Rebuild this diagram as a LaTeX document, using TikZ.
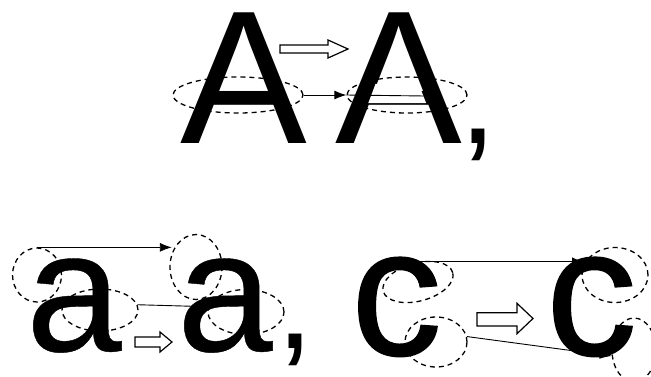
\documentclass[tikz,border=0pt]{standalone}
\usepackage{fontspec}
\setmainfont{Liberation Sans}
\newfontfamily\heavysans[FakeBold=0.7]{Liberation Sans}
\newfontfamily\semisans[FakeBold=0.25]{Liberation Sans}
\usetikzlibrary{shapes.geometric,arrows.meta}
\begin{document}
\begin{tikzpicture}[x=1pt,y=-1pt,
  bigglyph/.style={inner sep=0pt, outer sep=0pt, anchor=base west, font=\fontsize{190}{190}\selectfont},
  aglyph/.style={inner sep=0pt, outer sep=0pt, anchor=base west, font=\semisans\fontsize{172}{172}\selectfont},
  cglyph/.style={inner sep=0pt, outer sep=0pt, anchor=base west, font=\heavysans\fontsize{182}{182}\selectfont},
  commaglyph/.style={inner sep=0pt, outer sep=0pt, anchor=base west, font=\fontsize{135}{135}\selectfont},
  zone/.style={ellipse, draw, inner sep=0pt, line width=1.3pt, dash pattern=on 5pt off 4pt},
  link/.style={line width=0.9pt, -{Latex[length=12pt,width=9pt]}},
  plainlink/.style={line width=0.9pt},
  hollow/.style={draw, line width=1.2pt, line join=miter},
  patch/.style={fill=white, draw=none}]
\useasboundingbox (0,0) rectangle (651,376);
\fill[white] (0,0) rectangle (651,376);
% glyphs
\node[bigglyph] (A1) at (180,143) {A};
\node[bigglyph] (A2) at (335,143) {A};
\node[commaglyph] (comma1) at (459,143) {,};
\node[aglyph] (a1) at (26,351) {a};
\node[aglyph] (a2) at (177,351) {a};
\node[commaglyph] (comma2) at (276,348) {,};
\node[cglyph] (c1) at (351,355) {c};
\node[cglyph] (c2) at (546,355) {c};
% remove crossbar of second A
\fill[patch] (368.3,103) -- (426.1,103) -- (418.6,83.8) -- (375.6,83.8) -- cycle;
% top zones
\node[zone, minimum width=130pt, minimum height=36pt] (e1) at (238,95) {};
\node[zone, minimum width=120pt, minimum height=36pt] (e2) at (407,95) {};
\coordinate (barend) at (425,96);
\draw[link] (e1.east) -- (e2.west);
\draw[plainlink] (e2.west) -- (barend);
\draw[hollow] (280,45) -- (328,45) -- (328,40) -- (348,49) -- (328,58) -- (328,53) -- (280,53) -- cycle;
% a zones
\node[zone, minimum width=49pt, minimum height=54pt] (za1) at (37,275) {};
\node[zone, minimum width=76pt, minimum height=42pt] (za2) at (100,310) {};
\node[zone, minimum width=52pt, minimum height=65pt] (zb1) at (196,267) {};
\node[zone, minimum width=76pt, minimum height=45pt] (zb2) at (246,312) {};
\draw[link] (za1.north) -- (za1.north -| zb1.150);
\draw[link] (za2.8) -- (zb2.172);
\draw[hollow] (135,337) -- (160,337) -- (160,332) -- (172,342) -- (160,352) -- (160,347) -- (135,347) -- cycle;
% c zones
\node[zone, minimum width=72pt, minimum height=38pt, rotate=15] (zc1) at (418,282) {};
\node[zone, minimum width=62pt, minimum height=50pt] (zc2) at (436,342) {};
\node[zone, minimum width=66pt, minimum height=55pt] (zd1) at (615,275) {};
\node[zone, minimum width=44pt, minimum height=64pt] (zd2) at (634,350) {};
\draw[link] (zc1.75) -- (zc1.75 -| zd1.160);
\draw[link] (zc2.10) -- (zd2.195);
\draw[hollow] (477,312.7) -- (517,312.7) -- (517,303.3) -- (533,318.5) -- (517,333.7) -- (517,326) -- (477,326) -- cycle;
\end{tikzpicture}
\end{document}
